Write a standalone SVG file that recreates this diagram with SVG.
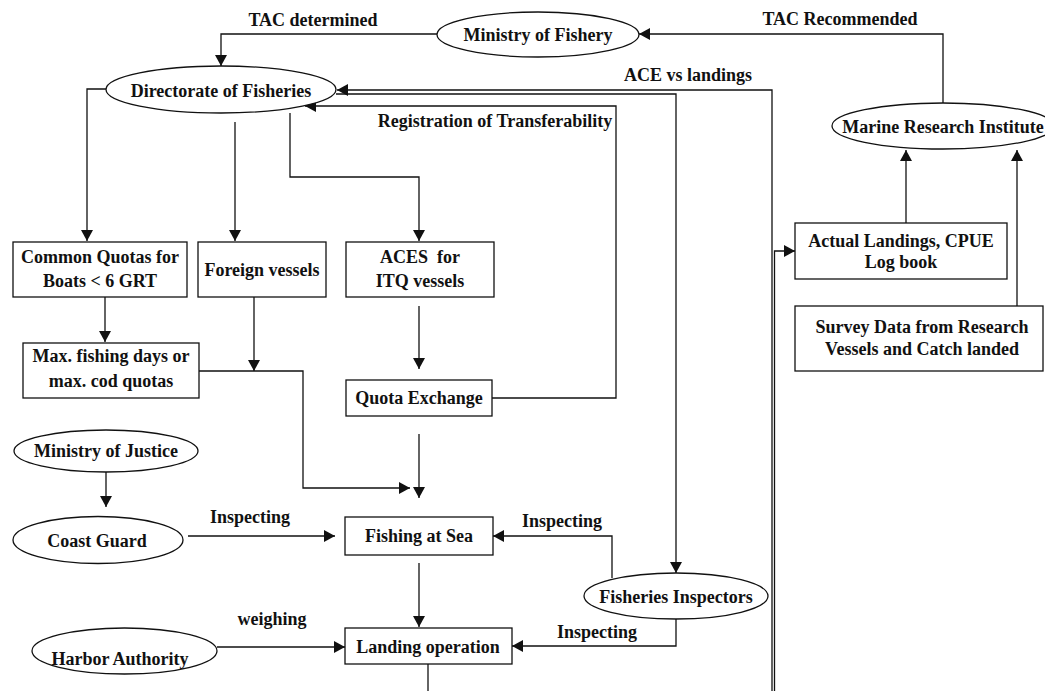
<svg xmlns="http://www.w3.org/2000/svg" width="1045" height="691" viewBox="0 0 1045 691">
<style>
text{font-family:"Liberation Serif","Times New Roman",serif;font-weight:bold;font-size:18px;fill:#111;text-anchor:middle}
.n{fill:#fff;stroke:#111;stroke-width:1.3}
.c{fill:none;stroke:#111;stroke-width:1.3}
</style>
<defs>
<marker id="a" markerUnits="userSpaceOnUse" markerWidth="12" markerHeight="12" refX="11" refY="6" orient="auto" viewBox="0 0 12 12">
<path d="M0,0 L11,6 L0,12 z" fill="#111"/>
</marker>
</defs>
<rect width="1045" height="691" fill="#fff"/>
<g id="connectors">
<path class="c" d="M437,34 H221 V66" marker-end="url(#a)"/>
<path class="c" d="M943,103 V34 H639" marker-end="url(#a)"/>
<path class="c" d="M772,691 V90 H337" marker-end="url(#a)"/>
<path class="c" d="M336,94 H676 V573" marker-end="url(#a)"/>
<path class="c" d="M492,398 H616 V106 H305" marker-end="url(#a)"/>
<path class="c" d="M106,89 H87 V241" marker-end="url(#a)"/>
<path class="c" d="M235,122 V241" marker-end="url(#a)"/>
<path class="c" d="M290,113 V177 H419 V241" marker-end="url(#a)"/>
<path class="c" d="M105,297 V342" marker-end="url(#a)"/>
<path class="c" d="M254,297 V371" marker-end="url(#a)"/>
<path class="c" d="M199,371 H303 V488 H410" marker-end="url(#a)"/>
<path class="c" d="M419,306 V369" marker-end="url(#a)"/>
<path class="c" d="M419,434 V498" marker-end="url(#a)"/>
<path class="c" d="M106,472 V507" marker-end="url(#a)"/>
<path class="c" d="M188,536 H335" marker-end="url(#a)"/>
<path class="c" d="M612,578 V536 H493" marker-end="url(#a)"/>
<path class="c" d="M419,563 V627" marker-end="url(#a)"/>
<path class="c" d="M217,647 H345" marker-end="url(#a)"/>
<path class="c" d="M676,619 V646 H512" marker-end="url(#a)"/>
<path class="c" d="M428,664 V691"/>
<path class="c" d="M774.5,691 V251 H795" marker-end="url(#a)"/>
<path class="c" d="M906,223 V150" marker-end="url(#a)"/>
<path class="c" d="M1017,306 V150" marker-end="url(#a)"/>
<text x="313" y="26">TAC determined</text>
<text x="840" y="25">TAC Recommended</text>
<text x="688" y="81">ACE vs landings</text>
<text x="495" y="127">Registration of Transferability</text>
<text x="250" y="523">Inspecting</text>
<text x="562" y="527">Inspecting</text>
<text x="597" y="638">Inspecting</text>
<text x="272" y="625">weighing</text>
</g>
<g id="ministry-fishery"><ellipse class="n" cx="538" cy="34.5" rx="101" ry="22.5"/><text x="538" y="41">Ministry of Fishery</text></g>
<g id="directorate"><ellipse class="n" cx="221" cy="89.5" rx="115" ry="23.5"/><text x="221" y="97">Directorate of Fisheries</text></g>
<g id="marine-research"><ellipse class="n" cx="943" cy="126" rx="111" ry="23"/><text x="943" y="133">Marine Research Institute</text></g>
<g id="common-quotas"><rect class="n" x="13" y="242" width="174" height="55"/><text x="100" y="263">Common Quotas for</text><text x="100" y="287">Boats &lt; 6 GRT</text></g>
<g id="foreign-vessels"><rect class="n" x="198" y="242" width="128" height="55"/><text x="262" y="276">Foreign vessels</text></g>
<g id="aces"><rect class="n" x="346" y="242" width="148" height="55"/><text x="420" y="263" xml:space="preserve">ACES  for</text><text x="420" y="287">ITQ vessels</text></g>
<g id="max-fishing"><rect class="n" x="23" y="343" width="176" height="55"/><text x="111" y="362">Max. fishing days or</text><text x="111" y="387">max. cod quotas</text></g>
<g id="quota-exchange"><rect class="n" x="346" y="380" width="146" height="36"/><text x="419" y="404">Quota Exchange</text></g>
<g id="actual-landings"><rect class="n" x="795" y="223" width="212" height="56"/><text x="901" y="247">Actual Landings, CPUE</text><text x="901" y="268">Log book</text></g>
<g id="survey-data"><rect class="n" x="795" y="306" width="248" height="65"/><text x="922" y="333">Survey Data from Research</text><text x="922" y="355">Vessels and Catch landed</text></g>
<g id="ministry-justice"><ellipse class="n" cx="106" cy="451" rx="92" ry="21"/><text x="106" y="457">Ministry of Justice</text></g>
<g id="coast-guard"><ellipse class="n" cx="98" cy="540" rx="85" ry="23.5"/><text x="97" y="547">Coast Guard</text></g>
<g id="fishing-at-sea"><rect class="n" x="345" y="517" width="148" height="38"/><text x="419" y="542">Fishing at Sea</text></g>
<g id="landing-operation"><rect class="n" x="345" y="628" width="167" height="36"/><text x="428" y="653">Landing operation</text></g>
<g id="harbor-authority"><ellipse class="n" cx="124.5" cy="651" rx="92.5" ry="23"/><text x="120" y="665">Harbor Authority</text></g>
<g id="fisheries-inspectors"><ellipse class="n" cx="676" cy="596" rx="92" ry="23"/><text x="676" y="603">Fisheries Inspectors</text></g>
</svg>
